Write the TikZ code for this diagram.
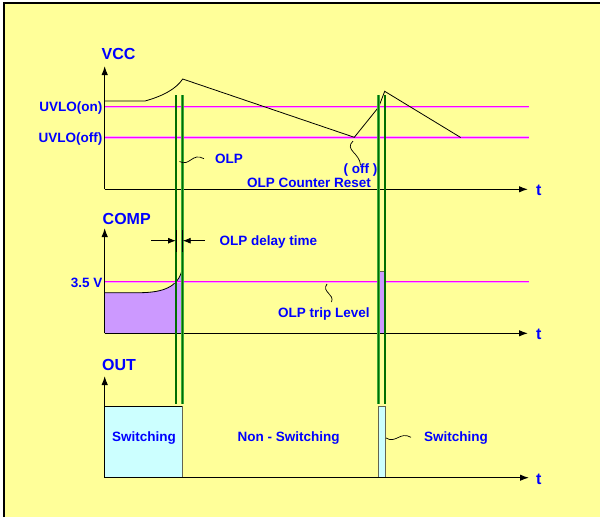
\documentclass[tikz,border=0pt]{standalone}
\usepackage{fontspec}
\setmainfont{Liberation Sans}
\usetikzlibrary{arrows.meta}
\definecolor{bgyellow}{RGB}{255,255,153}
\definecolor{txtblue}{RGB}{0,0,255}
\definecolor{trmag}{RGB}{255,0,255}
\definecolor{trpink}{RGB}{255,160,255}
\definecolor{gdark}{RGB}{0,110,0}
\definecolor{glight}{RGB}{60,170,60}
\definecolor{compfill}{RGB}{204,153,255}
\definecolor{outfill}{RGB}{204,255,255}
\definecolor{edgegray}{RGB}{100,100,80}
\tikzset{
  lbl/.style={text=txtblue,font=\bfseries\fontsize{13.5}{15}\selectfont,inner sep=0pt,yshift=-1.2pt},
  biglbl/.style={text=txtblue,font=\bfseries\fontsize{16}{18}\selectfont,inner sep=0pt,yshift=-1pt},
  axis/.style={line width=1.1pt,-{Latex[length=9pt,width=6.5pt]}},
  thr/.style={trpink,line width=2.4pt},
  thrcore/.style={trmag,line width=1pt},
  gout/.style={glight,line width=2.6pt},
  gin/.style={gdark,line width=1.1pt},
  trace/.style={black,line width=0.8pt},
  squig/.style={black,line width=0.7pt},
  dly/.style={line width=0.9pt,-{Latex[length=8pt,width=6pt]}}
}
\begin{document}
\begin{tikzpicture}[x=1pt,y=-1pt]
\useasboundingbox (0,0) rectangle (600,517);
\fill[white] (0,0) rectangle (600,517);
\fill[bgyellow] (4,3) rectangle (600,517);
\draw[line width=1.3pt] (4,517) -- (4,3) -- (600,3);

% ---------- VCC section ----------
\coordinate (v0) at (104.7,189.3);
\coordinate (vtop) at (104.7,66);
\coordinate (vend) at (528,189.3);
\draw[thr] (104.7,106.7) coordinate (on0) -- (529,106.7) coordinate (on1);
\draw[thrcore] (on0) -- (on1);
\draw[thr] (104.7,137.3) coordinate (off0) -- (529,137.3) coordinate (off1);
\draw[thrcore] (off0) -- (off1);
\draw[trace] (104.7,101) -- (145,101) .. controls (163,96) and (176,89) .. (182.7,79)
  -- (354.3,137.3) -- (378.7,107) -- (384.7,91.3) -- (460.7,137.5);
\draw[axis] (v0) -- (vtop);
\draw[axis] (v0) -- (vend);
\node[biglbl,anchor=west] (vcc) at (101.5,53) {VCC};
\node[lbl,anchor=east] (uon) at (102.5,107) {UVLO(on)};
\node[lbl,anchor=east] (uoff) at (102.5,137.5) {UVLO(off)};
\node[lbl,anchor=west] (t1) at (536,189) {\fontsize{16}{18}\selectfont t};
\node[lbl,anchor=west] (olp) at (215,157.5) {OLP};
\node[lbl] (offl) at (360.5,168.5) {( off )};
\node[lbl,anchor=west] (ocr) at (247,181.5) {OLP Counter Reset};

% ---------- COMP section ----------
\coordinate (c0) at (104.7,333.3);
\coordinate (ctop) at (104.7,228);
\coordinate (cend) at (528,333.3);
\fill[compfill] (104.7,333.3) -- (104.7,292.7) -- (140,292.7) .. controls (163,292.5) and (178,287) .. (182,270) -- (182,333.3) -- cycle;
\draw[trace] (104.7,292.7) -- (140,292.7) .. controls (163,292.5) and (178,287) .. (182,270);
\draw[thr] (104.7,281.7) coordinate (lv0) -- (529,281.7) coordinate (lv1);
\draw[thrcore] (lv0) -- (lv1);
\filldraw[fill=compfill,draw=edgegray,line width=0.8pt] (379,333.3) rectangle (385,271.5);
\draw[axis] (c0) -- (ctop);
\draw[axis] (c0) -- (cend);
\node[biglbl,anchor=west] (comp) at (102.5,218) {COMP};
\node[lbl,anchor=east] (v35) at (102.5,282) {3.5 V};
\node[lbl,anchor=west] (t2) at (536,333) {\fontsize{16}{18}\selectfont t};
\node[lbl,anchor=west] (dlyl) at (219.5,240.5) {OLP delay time};
\node[lbl,anchor=west] (tripl) at (278,313) {OLP trip Level};

% ---------- OUT section ----------
\coordinate (o0) at (104.7,477.7);
\coordinate (otop) at (104.7,376);
\coordinate (oend) at (529,477.7);
\filldraw[fill=outfill,draw=edgegray,line width=0.8pt] (104.7,477.7) rectangle (182.3,406);
\filldraw[fill=outfill,draw=edgegray,line width=0.8pt] (378.7,477.7) rectangle (385.3,406);
\draw[line width=1pt] (104.7,406) -- (182.3,406);
\draw[axis] (o0) -- (otop);
\draw[axis] (o0) -- (oend);
\node[biglbl,anchor=west] (out) at (102,364.3) {OUT};
\node[lbl] (sw1) at (144,437.3) {Switching};
\node[lbl] (nsw) at (288.7,437.3) {Non - Switching};
\node[lbl,anchor=west] (sw2) at (424,437.3) {Switching};
\node[lbl,anchor=west] (t3) at (536,477.7) {\fontsize{16}{18}\selectfont t};

% ---------- green OLP marker lines ----------
\foreach \gx/\gn in {176/ga,182.3/gb,378.7/gc,385/gd}{
  \coordinate (\gn top) at (\gx,95);
  \coordinate (\gn bot) at (\gx,404);
  \draw[gout] (\gn top) -- (\gn bot);
  \draw[gin] (\gn top) -- (\gn bot);
}

% ---------- delay-time arrows ----------
\coordinate (dlA) at (151,240.7);
\coordinate (dlB) at (176,240.7);
\coordinate (drA) at (205,240.7);
\coordinate (drB) at (182.7,240.7);
\draw[dly] (dlA) -- (dlB);
\draw[dly] (drA) -- (drB);
\draw[line width=0.9pt] (176,230) -- (176,251.5);
\draw[line width=0.9pt] (182.7,230) -- (182.7,251.5);

% ---------- squiggle callouts ----------
\coordinate (sqa) at (179.5,161.5);
\draw[squig] (sqa) .. controls (190,167) and (192,152) .. ([xshift=-11pt]olp.west);
\coordinate (sqb) at (353,141);
\draw[squig] (sqb) .. controls (344,150) and (360,153) .. ([yshift=-2pt]offl.north);
\coordinate (sqc) at (327,284);
\draw[squig] (sqc) .. controls (321,292) and (335,294) .. (331.5,302);
\coordinate (sqd) at (386,438);
\draw[squig] (sqd) .. controls (396,444) and (400,431) .. (411,437.3);
\end{tikzpicture}
\end{document}
